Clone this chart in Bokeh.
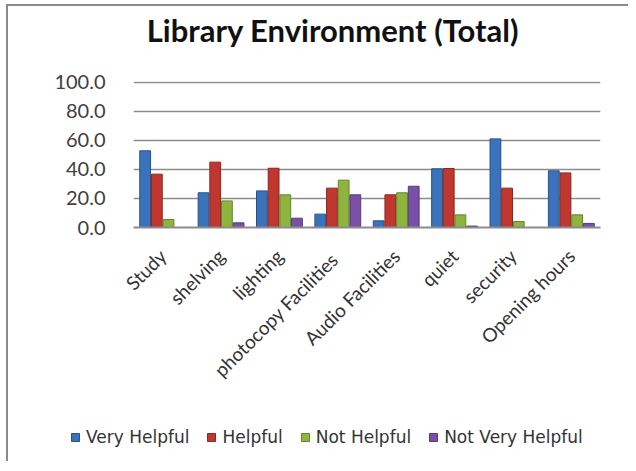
import math
from bokeh.plotting import figure
from bokeh.layouts import column
from bokeh.models import (ColumnDataSource, FactorRange, Range1d, Legend, LegendItem, Label,
                          FixedTicker, NumeralTickFormatter)
from bokeh.transform import dodge
from bokeh.embed import file_html
from bokeh.resources import INLINE

categories = ["Study", "shelving", "lighting", "photocopy  Facilities", "Audio Facilities",
              "quiet", "security", "Opening hours"]
very_helpful = [52.8, 23.9, 25.2, 9.2, 4.6, 40.4, 61.0, 39.0]
helpful = [36.7, 45.0, 40.8, 27.1, 22.5, 40.6, 27.1, 37.6]
not_helpful = [5.5, 18.3, 22.5, 32.6, 23.9, 8.7, 4.1, 8.7]
not_very_helpful = [0.0, 3.2, 6.4, 22.5, 28.4, 1.0, 0.0, 2.8]
series_names = ["Very Helpful", "Helpful", "Not Helpful", "Not Very Helpful"]
series_keys = ["vh", "h", "nh", "nvh"]
colors = ["#3a73bb", "#c0372f", "#8db43c", "#7a50a6"]
edge_colors = ["#24528c", "#8e2420", "#66862a", "#573a7a"]
y_ticks = [0, 20, 40, 60, 80, 100]
title_text = "Library Environment (Total)"

source = ColumnDataSource(dict(cat=categories, vh=very_helpful, h=helpful,
                               nh=not_helpful, nvh=not_very_helpful))

W = 620

# ---- title strip ----
tf = figure(width=W, height=56, x_range=Range1d(0, W), y_range=Range1d(0, 56),
            output_backend="svg", toolbar_location=None,
            x_axis_location=None, y_axis_location=None, frame_align=False,
            min_border_left=0, min_border_right=0, min_border_top=0, min_border_bottom=0)
tf.grid.visible = False
tf.outline_line_color = None
tf.add_layout(Label(x=324.5, y=33, text=title_text, text_align="center", text_baseline="alphabetic",
                    text_font="Lato", text_font_style="bold", text_font_size="31px",
                    text_color="#111111"))

# ---- main chart ----
p = figure(x_range=FactorRange(*categories), y_range=Range1d(0, 100.5),
           width=W, height=344, output_backend="svg", toolbar_location=None, frame_align=False,
           min_border_left=125, min_border_right=28, min_border_top=19, min_border_bottom=179)

offsets = [-0.3, -0.1, 0.1, 0.3]
for key, off, c, ec in zip(series_keys, offsets, colors, edge_colors):
    p.vbar(x=dodge("cat", off, range=p.x_range), top=key, width=0.185, bottom=0,
           source=source, fill_color=c, line_color=ec, line_width=1)

p.outline_line_color = None
p.xgrid.grid_line_color = None
p.ygrid.grid_line_color = "#8c8c8c"
p.ygrid.grid_line_width = 1.5
p.ygrid.ticker = FixedTicker(ticks=y_ticks)

p.yaxis.ticker = FixedTicker(ticks=y_ticks)
p.yaxis.formatter = NumeralTickFormatter(format="0.0")
p.yaxis.axis_line_color = None
p.yaxis.major_tick_line_color = None
p.yaxis.minor_tick_line_color = None
p.yaxis.major_label_text_font = "Lato"
p.yaxis.major_label_text_font_size = "20px"
p.yaxis.major_label_text_color = "#404040"
p.yaxis.major_label_standoff = 22

p.xaxis.axis_line_color = "#8c8c8c"
p.xaxis.axis_line_width = 2
p.xaxis.major_tick_line_color = None
p.xaxis.minor_tick_line_color = None
p.xaxis.major_label_orientation = math.pi / 4
p.xaxis.major_label_text_font = "Lato"
p.xaxis.major_label_text_font_size = "19px"
p.xaxis.major_label_text_color = "#333333"
p.xaxis.major_label_standoff = 19

# ---- legend strip ----
lf = figure(width=W, height=55, x_range=FactorRange(*categories), y_range=Range1d(1000, 1001),
            output_backend="svg", toolbar_location=None,
            x_axis_location=None, y_axis_location=None, frame_align=False,
            min_border_left=0, min_border_right=0, min_border_top=0, min_border_bottom=0)
lf.grid.visible = False
lf.outline_line_color = None
items = []
for name, key, c, ec in zip(series_names, series_keys, colors, edge_colors):
    r = lf.vbar(x="cat", top=key, width=0.2, bottom=0, source=source,
                fill_color=c, line_color=ec, line_width=1)
    items.append(LegendItem(label=name, renderers=[r]))
legend = Legend(items=items, orientation="horizontal", location=(62, 14),
                glyph_width=10, glyph_height=10, label_standoff=6, spacing=17,
                padding=2, margin=0, border_line_color=None, background_fill_alpha=0,
                label_text_font="DejaVu Sans", label_text_font_size="17px",
                label_text_color="#333333")
lf.add_layout(legend)

layout = column(tf, p, lf, spacing=0,
                styles={"border-left": "2px solid #8a8a8a", "border-top": "2px solid #8a8a8a",
                        "margin-left": "6px", "margin-top": "4px"})

open("out.html", "w").write(file_html(layout, INLINE))
